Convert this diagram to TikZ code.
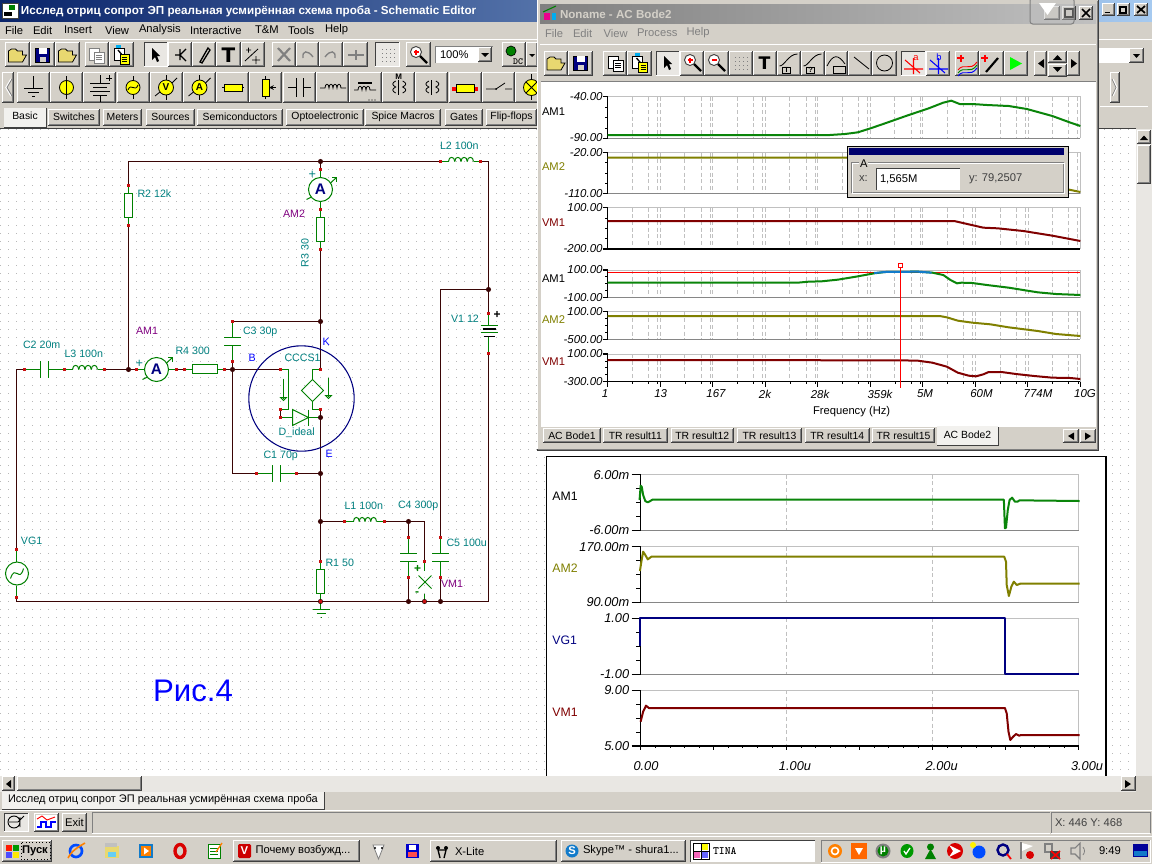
\documentclass[tikz,border=0pt]{standalone}
\usepackage{fontspec}
\setmainfont{Liberation Sans}
\newfontfamily\symfont{DejaVu Sans}
\definecolor{win}{HTML}{D4D0C8}
\definecolor{grayc}{HTML}{808080}
\definecolor{dkedge}{HTML}{404040}
\definecolor{wirec}{HTML}{3A0505}
\definecolor{leadc}{HTML}{008000}
\definecolor{tickc}{HTML}{C81010}
\definecolor{tealc}{HTML}{008080}
\definecolor{purpc}{HTML}{800080}
\definecolor{navyc}{HTML}{000080}
\definecolor{olivec}{HTML}{808000}
\definecolor{marc}{HTML}{800000}
\definecolor{gridc}{HTML}{C0C0C0}
\definecolor{dotc}{HTML}{B8B8B8}
\definecolor{ditherc}{HTML}{E9E7E3}
\definecolor{titleA}{HTML}{0A246A}
\definecolor{titleB}{HTML}{A6CAF0}
\definecolor{curvegreen}{HTML}{0A850A}
\definecolor{icoyellow}{HTML}{FFFF00}
\definecolor{foldery}{HTML}{E8D870}
\newcounter{lblc}
\tikzset{
  txt/.style={inner sep=0pt,outer sep=0pt,anchor=west,text=black,font=\fontsize{8.4}{10}\selectfont},
  tabt/.style={txt,font=\fontsize{7.8}{10}\selectfont},
  lab/.style={txt,text=tealc,font=\fontsize{8}{10}\selectfont},
  pur/.style={lab,text=purpc},
  blu/.style={lab,text=blue},
  ax/.style={txt,anchor=east,font=\fontsize{8.6}{10}\selectfont\itshape},
  axb/.style={txt,anchor=east,font=\fontsize{9.6}{10}\selectfont\itshape},
  wire/.style={draw=wirec,line width=0.75pt},
  lead/.style={draw=leadc,line width=0.75pt},
  jct/.style={circle,fill=wirec,draw=none,inner sep=0pt,minimum size=3.8pt},
  curve/.style={line width=1.5pt,line join=round},
  gline/.style={draw=gridc,line width=0.75pt},
  dgrid/.style={draw=gridc,line width=0.6pt,dash pattern=on 3pt off 2pt},
  ico/.style={draw=black,line width=0.6pt},
}
\newcommand\tx[4][]{\stepcounter{lblc}\node[txt,#1] (lb\arabic{lblc}) at (#2,#3) {#4};}
% raised button
\newcommand\btn[4]{\fill[win] (#1,#2) rectangle (#3,#4);
 \draw[white,line width=0.75pt] (#1+0.5,#4-1) -- (#1+0.5,#2+0.5) -- (#3-1,#2+0.5);
 \draw[grayc,line width=0.75pt] (#1+1,#4-1.5) -- (#3-1.5,#4-1.5) -- (#3-1.5,#2+1);
 \draw[dkedge,line width=0.75pt] (#1,#4-0.5) -- (#3-0.5,#4-0.5) -- (#3-0.5,#2);}
\newcommand\btnin[4]{\fill[ditherc] (#1,#2) rectangle (#3,#4);
 \draw[dkedge,line width=0.75pt] (#1+0.5,#4-1) -- (#1+0.5,#2+0.5) -- (#3-1,#2+0.5);
 \draw[white,line width=0.75pt] (#1,#4-0.5) -- (#3-0.5,#4-0.5) -- (#3-0.5,#2);}
% icons
\newcommand\icfolder[2]{\filldraw[fill=foldery,draw=black,line width=0.6pt] (#1-9,#2+7) -- (#1-9,#2-4) -- (#1-6,#2-6) -- (#1-2,#2-6) -- (#1,#2-4) -- (#1+5,#2-4) -- (#1+5,#2) -- (#1+9,#2) -- (#1+5,#2+7) -- cycle;}
\newcommand\icfloppy[2]{\filldraw[fill=navyc,draw=black,line width=0.5pt] (#1-7,#2-7) rectangle (#1+7,#2+7);\fill[white] (#1-4,#2-7) rectangle (#1+4,#2-1);\fill[win] (#1-3,#2+2) rectangle (#1+3,#2+7);}
\newcommand\icpaper[3]{\filldraw[fill=white,draw=#3,line width=0.6pt] (#1-7,#2-7) rectangle (#1+3,#2+5);\filldraw[fill=white,draw=#3,line width=0.6pt] (#1-2,#2-3) rectangle (#1+8,#2+8);\foreach \q in {0,2,4}{\draw[#3,line width=0.5pt] (#1,#2+\q) -- (#1+6,#2+\q);}}
\newcommand\icpaste[2]{\filldraw[fill=white,draw=black,line width=0.6pt] (#1-7,#2-7) rectangle (#1+3,#2+5);\fill[cyan] (#1-5,#2-10) rectangle (#1,#2-7);\draw[line width=1pt] (#1-3,#2-5) -- (#1+2,#2+1);\filldraw[fill=icoyellow,draw=black,line width=0.6pt] (#1-1,#2-1) rectangle (#1+8,#2+9);\foreach \q in {2,4,6}{\draw[line width=0.5pt] (#1+1,#2+\q) -- (#1+6,#2+\q);}}
\newcommand\icarrow[2]{\fill[black] (#1-4,#2-7) -- (#1-4,#2+5) -- (#1-1,#2+2) -- (#1+1,#2+7) -- (#1+3,#2+6) -- (#1+1,#2+1) -- (#1+4,#2+1) -- cycle;}
\newcommand\icmag[4]{\filldraw[fill=white,draw=dkedge,line width=0.7pt] (#1-2,#2-3) circle[radius=5.5];\draw[#3,line width=1pt] (#1-4.5,#2-3) -- (#1+.5,#2-3);\ifnum#4=1 \draw[#3,line width=1pt] (#1-2,#2-5.5) -- (#1-2,#2-.5);\fi\draw[black,line width=1.8pt] (#1+2,#2+1) -- (#1+9,#2+8);}
\newcommand\icdots[2]{\foreach \a in {-6,-2,2,6}{\foreach \b in {-6,-2,2,6}{\fill[grayc] (#1+\a,#2+\b) rectangle (#1+\a+1,#2+\b+1);}}}
\newcommand\mycoil[3]{\pgfmathsetmacro\cw{(#2-#1)/4}\foreach \k in {0,1,2,3}{\draw[lead] ({#1+\k*\cw},#3) .. controls ({#1+\k*\cw},#3-5.5) and ({#1+(\k+1)*\cw},#3-5.5) .. ({#1+(\k+1)*\cw},#3);}}
\newcommand\tk[1]{\fill[tickc] ([xshift=-1.1pt,yshift=-1.1pt]#1) rectangle ([xshift=1.1pt,yshift=1.1pt]#1);}
\newcommand\ammeter[2]{\draw[lead,fill=white] (#1,#2) circle[radius=12];\stepcounter{lblc}\node[inner sep=0pt,text=navyc,font=\fontsize{11.5}{12}\selectfont\bfseries] (lb\arabic{lblc}) at (#1,#2) {A};\draw[lead] (#1-14,#2+10) -- (#1-9,#2+7.5) (#1+10,#2-6.5) -- (#1+16,#2-12);\draw[lead] (#1+11.5,#2-12) -- (#1+16,#2-12) -- (#1+16,#2-7.5);}
\newcommand\hcap[3]{\draw[lead] (#1,#3-8.5) -- (#1,#3+8.5) (#2,#3-8.5) -- (#2,#3+8.5);}
\newcommand\vcap[3]{\draw[lead] (#3-8.5,#1) -- (#3+8.5,#1) (#3-8.5,#2) -- (#3+8.5,#2);}
% plot frames, in zoom coordinates of their scope
\newcommand\bodeframe[3]{%
 \foreach \n in {0,...,8}{\foreach \o in {68,113,138,145}{\pgfmathsetmacro\gx{197+144.4*\n+\o}\draw[dgrid] (\gx,#1) -- (\gx,#2);}}
 \draw[gline] (197,#1) -- (1497,#1) -- (1497,#2);
 \draw[#3,line width=0.8pt] (197,#2) -- (1497,#2);
 \draw[black,line width=0.8pt] (197,#1) -- (197,#2);
 \draw[black,line width=0.8pt] (183,#1) -- (197,#1) (183,#2) -- (197,#2);
 \pgfmathsetmacro\sA{#1+(#2-#1)/4}\pgfmathsetmacro\sB{#1+(#2-#1)/2}\pgfmathsetmacro\sC{#1+3*(#2-#1)/4}
 \draw[black,line width=0.6pt] (190,\sA) -- (197,\sA) (190,\sB) -- (197,\sB) (190,\sC) -- (197,\sC);}
\newcommand\trframe[3]{%
 \foreach \gx in {673,1082}{\draw[dgrid] (\gx,#1) -- (\gx,#2);}
 \draw[gline] (265,#1) -- (1491,#1) -- (1491,#2);
 \draw[#3,line width=0.8pt] (265,#2) -- (1491,#2);
 \draw[black,line width=0.8pt] (265,#1) -- (265,#2);
 \draw[black,line width=0.8pt] (240,#1) -- (265,#1) (240,#2) -- (265,#2);
 \pgfmathsetmacro\sA{#1+(#2-#1)/4}\pgfmathsetmacro\sB{#1+(#2-#1)/2}\pgfmathsetmacro\sC{#1+3*(#2-#1)/4}
 \draw[black,line width=0.6pt] (253,\sA) -- (265,\sA) (253,\sB) -- (265,\sB) (253,\sC) -- (265,\sC);}
\begin{document}
\begin{tikzpicture}[x=0.75pt,y=-0.75pt]
\useasboundingbox (0,0) rectangle (1152,864);
\clip (0,0) rectangle (1152,864);
\fill[win] (0,0) rectangle (1152,864);

%% ---------- main window title ----------
\shade[left color=titleA,right color=titleB] (0,0) rectangle (1152,21);
\filldraw[fill=white,draw=dkedge,line width=0.5pt] (2,3) rectangle (18,18);
\fill[leadc] (9,5) rectangle (15,10);\fill[black] (4,12) rectangle (12,16);
\tx[text=white,font=\fontsize{8.75}{10}\selectfont\bfseries]{21}{11}{Исслед отриц сопрот ЭП реальная усмирённая схема проба - Schematic Editor}
\btn{1102}{3}{1115}{16}\btn{1117}{3}{1130}{16}\btn{1134}{3}{1148}{16}
\draw[black,line width=1.3pt] (1104.5,12.5) -- (1110,12.5);
\draw[black,line width=0.8pt] (1120,7) rectangle (1126,13);
\draw[black,line width=1.3pt] (1137,6) -- (1145,13) (1145,6) -- (1137,13);
%% menu
\foreach \mx/\mt in {5/File,33/Edit,64/Insert,105/View,139/Analysis,190/Interactive,255/T\&M,288/Tools,325/Help}{\tx{\mx}{30}{\mt}}
\draw[white,line width=0.75pt] (0,39.5) -- (1152,39.5);
%% main toolbar
\foreach \a/\b in {5/30,30/55,55/80,84.5/109,109/134,168/192,192/216,216/241,241/265,272/296,296/319,319/343,343/368,406/431,502/526,526/538}{\btn{\a}{42}{\b}{67}}
\btnin{144}{42}{168}{67}\btnin{375}{42}{400}{67}
\icfolder{17.5}{55}\icfloppy{42.5}{55}\icfolder{67.5}{55}
\icpaper{96}{55}{grayc}\icpaste{121}{55}\icarrow{156}{55}
\draw[ico,line width=1pt] (175,55) -- (180,55) (180,49) -- (180,60) (180,55) -- (186,49) (180,55) -- (186,61);
\draw[ico,line width=1pt] (200,62) -- (208,48) -- (210,50) -- (202,63) -- cycle;
\stepcounter{lblc}\node[inner sep=0pt,font=\fontsize{15}{15}\selectfont\bfseries\symfont] (lb\arabic{lblc}) at (228.5,55) {T};
\draw[ico] (245,61) -- (258,49) (246,50) -- (251,50) (248.5,47.5) -- (248.5,52.5) (252,60) -- (260,60) (256,56) -- (256,64);
\draw[grayc,line width=1.6pt] (278,48) -- (290,61) (290,48) -- (278,61);
\draw[grayc,line width=1pt] (303,58) .. controls (302,50) and (308,50) .. (313,57);\draw[grayc,line width=1pt] (335,58) .. controls (336,50) and (330,50) .. (325,57);
\draw[grayc,line width=1pt] (348,55) -- (364,55) (356,50) -- (356,60);
\icdots{387.5}{55}
\icmag{418}{55}{red}{1}
\fill[white] (435,46) rectangle (478,63);\btn{478}{47}{492}{62}
\draw[grayc,line width=0.75pt] (435,63) -- (435,46) -- (493,46);
\tx{440}{55}{100\%}
\fill[black] (481,53) -- (489,53) -- (485,57) -- cycle;
\filldraw[fill=leadc,draw=black,line width=0.5pt] (511,51) circle[radius=5];
\stepcounter{lblc}\node[inner sep=0pt,font=\fontsize{7}{7}\selectfont\bfseries\ttfamily] (lb\arabic{lblc}) at (518,62) {DC};
\fill[black] (529,54) -- (535,54) -- (532,57) -- cycle;
%% palette
\btn{2}{72}{14}{103}
\draw[white,line width=1pt] (11,79) -- (6,87.5) -- (11,96);\draw[grayc,line width=0.6pt] (12,79) -- (7,87.5) -- (12,96);
\foreach \a in {17,50.2,83.4,116.6,149.8,183,216.2,249.4,282.6,315.8,349,382.2,415.4,448.6,481.8,515}{\btn{\a}{72}{\a+33}{103}}
% ground
\draw[ico] (33.5,76) -- (33.5,88) (24,88) -- (43,88) (28,92) -- (39,92) (32,96) -- (35,96);
% current src
\draw[ico] (66.5,76) -- (66.5,99);\filldraw[fill=icoyellow,draw=black,line width=.6pt] (66.5,87.5) circle[radius=7];\draw[ico] (66.5,80) -- (66.5,95);
% battery
\draw[ico] (100,75) -- (100,83) (90,83) -- (110,83) (93,87) -- (107,87) (90,91) -- (110,91) (93,95) -- (107,95) (100,95) -- (100,102);
\draw[ico] (106,78) -- (112,78) (109,75) -- (109,81);
% voltage gen
\draw[ico] (133,76) -- (133,99);\filldraw[fill=icoyellow,draw=black,line width=.6pt] (133,87.5) circle[radius=7];\draw[ico] (128,90) .. controls (131,82) and (135,93) .. (138,85);
% meters
\foreach \mc/\ml in {166/V,199.5/A}{\draw[ico] (\mc,75) -- (\mc,100);\filldraw[fill=icoyellow,draw=black,line width=.6pt] (\mc,87.5) circle[radius=7.5];\draw[ico] (\mc-11,96) -- (\mc-6,92) (\mc+6,83) -- (\mc+11,78);\stepcounter{lblc}\node[inner sep=0pt,font=\fontsize{7.5}{8}\selectfont\bfseries] (lb\arabic{lblc}) at (\mc,87.5) {\ml};}
% resistor
\draw[ico] (222,87.5) -- (244,87.5);\filldraw[fill=icoyellow,draw=black,line width=.6pt] (224,84) rectangle (242,91);
% pot
\draw[ico] (265.5,76) -- (265.5,99);\filldraw[fill=icoyellow,draw=black,line width=.6pt] (262,79) rectangle (269,96);\draw[ico,-stealth] (276,87.5) -- (269,87.5);
% cap
\draw[ico] (288,87.5) -- (296,87.5) (303,87.5) -- (311,87.5) (296,78) -- (296,97) (303,78) -- (303,97);
% coil
\draw[ico] (320,88) -- (325,88) .. controls (325,83) and (329,83) .. (329,88) .. controls (329,83) and (333,83) .. (333,88) .. controls (333,83) and (337,83) .. (337,88) .. controls (337,83) and (341,83) .. (341,88) -- (346,88);
% coil core
\draw[ico] (354,90) -- (358,90) .. controls (358,85) and (362,85) .. (362,90) .. controls (362,85) and (366,85) .. (366,90) .. controls (366,85) and (370,85) .. (370,90) -- (376,90);
\draw[black,line width=1.4pt] (358,83) -- (372,83);
\fill[black] (369,100) circle[radius=.6] (372,100) circle[radius=.6] (375,100) circle[radius=.6];
% transformers
\foreach \tc in {398.7,431.9}{\draw[ico] (\tc-3,81) .. controls (\tc-7,83) and (\tc-7,85) .. (\tc-3,87) .. controls (\tc-7,89) and (\tc-7,91) .. (\tc-3,93);\draw[ico] (\tc+4,81) .. controls (\tc+8,83) and (\tc+8,85) .. (\tc+4,87) .. controls (\tc+8,89) and (\tc+8,91) .. (\tc+4,93);\draw[black,line width=.8pt] (\tc,80) -- (\tc,95);}
\stepcounter{lblc}\node[inner sep=0pt,font=\fontsize{6}{6}\selectfont\bfseries] (lb\arabic{lblc}) at (398.7,76.5) {M};
% lossy line
\draw[ico] (452,89) -- (478,89);\fill[red] (452,87) rectangle (456,91);\fill[red] (474,87) rectangle (478,91);\filldraw[fill=icoyellow,draw=black,line width=.6pt] (456,84) rectangle (474,92);
% switch
\draw[ico] (486,89) -- (496,89) (496,89) -- (505,83) (505,89) -- (512,89);\fill[black] (496,89) circle[radius=1];
% lamp
\draw[ico] (531.5,74) -- (531.5,100);\filldraw[fill=icoyellow,draw=black,line width=.6pt] (531.5,87.5) circle[radius=8];\draw[ico] (526,82) -- (537,93) (537,82) -- (526,93);
\btn{1110}{72}{1120}{103}\draw[white,line width=.8pt] (1113,79) -- (1117,87.5) -- (1113,96);\draw[grayc,line width=.5pt] (1112,79) -- (1116,87.5) -- (1112,96);
\draw[white,line width=.75pt] (1100,106.5) -- (1148,106.5);
%% combo on the right of main window
\fill[white] (1099,48) rectangle (1129,63);\btn{1129}{48}{1144}{63}\fill[black] (1133,54) -- (1140,54) -- (1136.5,58) -- cycle;
%% palette tabs
\foreach \a/\b/\t in {48/100/Switches,103/142/Meters,146/195/Sources,197/283/Semiconductors,286/364/Optoelectronic,365/441/Spice Macros,445/483/Gates,486/537/Flip-flops}{\btn{\a}{109}{\b}{126}\stepcounter{lblc}\node[tabt,anchor=center,inner sep=0pt] (lb\arabic{lblc}) at ({(\a+\b)/2},117) {\t};}
\fill[white!70!win] (4,108) rectangle (46,127);\draw[dkedge,line width=.75pt] (46.5,108) -- (46.5,127.5) -- (4,127.5);
\tx[tabt,anchor=center]{25}{116}{Basic}

%% ---------- schematic sheet ----------
\fill[white] (0,128.5) rectangle (1136,776);
\draw[dkedge,line width=.75pt] (0,128) -- (1136,128);
\foreach \gy in {129,137,...,777}{\draw[dotc,line width=0.75pt,dash pattern=on 0.75pt off 5.25pt] (0,\gy+.5) -- (1136,\gy+.5);}

\begin{scope}[shift={(0.5,0.5)}]
%% named points
\coordinate (c128) at (128,161); \node[jct] (jTop) at (320,161) {};
\coordinate (tL2a) at (440,161); \coordinate (tL2b) at (480,161); \coordinate (c488t) at (488,161);
\node[jct] (j488) at (488,289) {}; \coordinate (c440) at (440,289);
\coordinate (tV1a) at (488,313); \coordinate (tV1b) at (488,353); \coordinate (c488b) at (488,601);
\coordinate (tR2a) at (128,185); \coordinate (tR2b) at (128,225); \node[jct] (j128) at (128,369) {};
\coordinate (c16) at (16,369); \coordinate (c16b) at (16,601); \coordinate (tVGa) at (16,549); \coordinate (tVGb) at (16,597);
\coordinate (tC2a) at (24,369); \coordinate (tC2b) at (64,369); \coordinate (tL3b) at (104,369);
\coordinate (tAa) at (136,369); \coordinate (tAb) at (176,369); \coordinate (tR4a) at (184,369); \coordinate (tR4b) at (224,369);
\node[jct] (jB) at (232,369) {};
\coordinate (tC3b) at (232,361); \coordinate (tC3a) at (232,321); \node[jct] (jK) at (320,321) {};
\coordinate (tAM2a) at (320,169); \coordinate (tAM2b) at (320,209); \coordinate (tR3b) at (320,249);
\coordinate (tKk) at (320,369); \coordinate (tBi) at (280,369); \coordinate (tD1) at (280,409); \coordinate (tD2) at (280,417);
\coordinate (tEe) at (320,409); \node[jct] (jE) at (320,417) {}; \node[jct] (jC1) at (320,473) {};
\node[jct] (jL1) at (320,521) {}; \coordinate (tR1a) at (320,561); \node[jct] (jGnd) at (320,601) {};
\coordinate (cBb) at (232,473); \coordinate (tC1a) at (256,473); \coordinate (tC1b) at (296,473);
\coordinate (tL1a) at (344,521); \coordinate (tL1b) at (384,521); \node[jct] (j408) at (408,521) {};
\coordinate (c424) at (424,521); \coordinate (tVMa) at (424,561); \node[jct] (jVMb) at (424,601) {};
\coordinate (tC4a) at (408,537); \coordinate (tC4b) at (408,577); \node[jct] (j408b) at (408,601) {};
\coordinate (tC5a) at (440,537); \coordinate (tC5b) at (440,577); \node[jct] (j440b) at (440,601) {};
%% wires
\draw[wire] (tR2a) -- (c128) -- (jTop) -- (tL2a);
\draw[wire] (tL2b) -- (c488t) -- (j488) -- (tV1a);
\draw[wire] (tV1b) -- (c488b) -- (j440b) -- (jVMb) -- (j408b) -- (jGnd) -- (c16b) -- (tVGb);
\draw[wire] (tVGa) -- (c16) -- (tC2a);
\draw[wire] (tR2b) -- (j128);
\draw[wire] (tL3b) -- (j128) -- (tAa);
\draw[wire] (tAb) -- (tR4a); \draw[wire] (tR4b) -- (jB);
\draw[wire] (jB) -- (tBi); \draw[wire] (tD1) -- (tD2);
\draw[wire] (jB) -- (tC3b); \draw[wire] (tC3a) -- (jK);
\draw[wire] (jTop) -- (tAM2a); \draw[wire] (tR3b) -- (jK) -- (tKk);
\draw[wire] (tEe) -- (jE) -- (jC1) -- (jL1) -- (tR1a);
\draw[wire] (jB) -- (cBb) -- (tC1a); \draw[wire] (tC1b) -- (jC1);
\draw[wire] (jL1) -- (tL1a); \draw[wire] (tL1b) -- (j408) -- (c424) -- (tVMa);
\draw[wire] (j408) -- (tC4a); \draw[wire] (tC4b) -- (j408b);
\draw[wire] (j488) -- (c440) -- (tC5a); \draw[wire] (tC5b) -- (j440b);
%% CCCS circle
\draw[navyc,line width=0.8pt] (301,398) circle[radius=52.7];
%% green leads + parts
\draw[lead] (tC2a) -- (40,369) (48,369) -- (tC2b) -- (72,369) (97,369) -- (tL3b);
\hcap{40}{48}{369} \mycoil{72}{97}{369}
\draw[lead] (tAa) -- (144,369) (168,369) -- (tAb); \ammeter{156}{369}
\draw[lead] (tR4a) -- (192,369) (217,369) -- (tR4b); \draw[lead,fill=white] (192,364) rectangle (217,373);
\draw[lead] (tR2a) -- (128,193) (128,217) -- (tR2b); \draw[lead,fill=white] (124,193) rectangle (132,217);
\draw[lead] (tAM2a) -- (320,177) (320,201) -- (tAM2b) -- (320,217) (320,241) -- (tR3b); \ammeter{320}{189}
\draw[lead,fill=white] (316,217) rectangle (324,241);
\draw[lead] (tC3b) -- (232,345) (232,337) -- (tC3a); \vcap{337}{345}{232}
\draw[lead] (tBi) -- (288,369) -- (288,409) -- (tD1);
\draw[lead] (tD2) -- (292,417) (308,417) -- (jE);
\draw[lead] (292,409) -- (292,425) -- (308,417) -- cycle; \draw[lead] (308,409) -- (308,425);
\draw[lead] (tKk) -- (312,369) -- (312,379) (312,401) -- (312,409) -- (tEe);
\draw[lead] (312,379) -- (323,390) -- (312,401) -- (301,390) -- cycle;
\draw[lead] (283,378) -- (283,398); \draw[lead] (280,397) -- (286,397) -- (283,400) -- cycle;
\draw[lead] (328,377) -- (328,396); \draw[lead] (325,395) -- (331,395) -- (328,398) -- cycle;
\draw[lead] (tC1a) -- (272,473) (280,473) -- (tC1b); \hcap{272}{280}{473}
\draw[lead] (tL1a) -- (353,521) (376,521) -- (tL1b); \mycoil{353}{376}{521}
\draw[lead] (tL2a) -- (448,161) (473,161) -- (tL2b); \mycoil{448}{473}{161}
\draw[lead] (tC4a) -- (408,553) (408,561) -- (tC4b); \vcap{553}{561}{408}
\draw[lead] (tC5a) -- (440,553) (440,561) -- (tC5b); \vcap{553}{561}{440}
\draw[lead] (tVMa) -- (424,570) (424,593) -- (jVMb);
\draw[lead] (418,575) -- (431,588) (431,575) -- (418,588);
\draw[lead] (tR1a) -- (320,569) (320,593) -- (jGnd); \draw[lead,fill=white] (316,569) rectangle (324,593);
\draw[lead] (jGnd) -- (320,609) (312,609) -- (329,609) (316,613) -- (325,613) (320,617) -- (321,617);
\draw[lead] (tVGa) -- (16,561.5) (16,585) -- (tVGb);
\draw[lead,fill=white] (16.5,573) circle[radius=11.5];
\draw[lead] (10,578) .. controls (15,563) and (19,583) .. (23,568);
\draw[lead] (tV1a) -- (488,325) (488,336) -- (tV1b);
\draw[lead] (480,325) -- (497,325) (480,332) -- (497,332);
\draw[black,line width=1.3pt] (482,328.5) -- (495,328.5);
\draw[black,line width=1.3pt] (483,336) -- (494,336);
%% ticks
\foreach \tn in {tL2a,tL2b,tV1a,tV1b,tR2a,tR2b,tVGa,tVGb,tC2a,tC2b,tL3b,tAa,tAb,tR4a,tR4b,tC3a,tC3b,tAM2a,tAM2b,tR3b,tKk,tBi,tD1,tD2,tEe,tR1a,tC1a,tC1b,tL1a,tL1b,tVMa,tC4a,tC4b,tC5a,tC5b,jGnd,jVMb}{\tk{\tn}}
\end{scope}
%% schematic labels
\tx[lab]{137.5}{194}{R2 12k}
\tx[pur]{136}{330.5}{AM1}
\tx[lab]{23}{345}{C2 20m}
\tx[lab]{64.5}{354}{L3 100n}
\tx[lab]{175.5}{351}{R4 300}
\tx[lab]{243}{332}{C3 30p}
\tx[blu]{248.5}{357.5}{B}
\tx[blu]{322.5}{341.5}{K}
\tx[blu]{325.5}{454}{E}
\tx[lab]{284.5}{358}{CCCS1}
\tx[lab]{278.5}{433}{D\_ideal}
\tx[lab]{263.5}{456}{C1 70p}
\tx[lab]{344.5}{506}{L1 100n}
\tx[lab]{398}{506}{C4 300p}
\tx[lab]{446.5}{543}{C5 100u}
\tx[lab]{325.5}{563}{R1 50}
\tx[pur]{441}{584}{VM1}
\tx[lab]{21}{541}{VG1}
\tx[lab]{440}{146}{L2 100n}
\tx[pur]{283}{214}{AM2}
\stepcounter{lblc}\node[lab,rotate=90,anchor=center] (lb\arabic{lblc}) at (305,253) {R3 30};
\tx[lab]{451}{319}{V1 12}
\tx[txt,font=\fontsize{9}{10}\selectfont\bfseries]{493.5}{315}{+}
\tx[lab,font=\fontsize{9.5}{10}\selectfont]{135.5}{364}{+}
\tx[lab,font=\fontsize{9.5}{10}\selectfont]{308.5}{174.5}{+}
\tx[lab,text=leadc,font=\fontsize{9}{10}\selectfont\bfseries]{414}{568.5}{+}
\tx[lab,text=leadc,font=\fontsize{9}{10}\selectfont\bfseries]{415}{594}{-}
\tx[txt,text=blue,font=\fontsize{23.4}{26}\selectfont]{153}{691}{Рис.4}

%% right scrollbar
\fill[ditherc] (1136,129) rectangle (1152,776);
\btn{1136.5}{130}{1151}{144}\fill[black] (1140,140) -- (1148,140) -- (1144,135.5) -- cycle;
\btn{1136.5}{145}{1151}{184}
\fill[win] (1136,776) rectangle (1152,792);

%% ---------- Bode window ----------
\fill[win] (537,0) rectangle (1099,450);
\draw[white,line width=.75pt] (537.5,450) -- (537.5,0);
\draw[dkedge,line width=1pt] (1098.5,0) -- (1098.5,450) -- (537,450);
\draw[grayc,line width=.75pt] (1097,1) -- (1097,449) -- (538,449);
\shade[left color=grayc,right color=gridc] (540,4) rectangle (1096,23);
\fill[magenta] (544,13) rectangle (550,20);\fill[cyan] (552,13) rectangle (556,20);\draw[leadc,line width=.8pt] (543,12) -- (556,6);
\tx[text=win,font=\fontsize{8.7}{10}\selectfont\bfseries]{560}{14}{Noname - AC Bode2}
\foreach \mx/\mt in {545/File,573/Edit,603.6/View,637/Process,686.5/Help}{\tx[text=grayc]{\mx}{33}{\mt}}
\draw[white,line width=.75pt] (540,44.5) -- (1096,44.5);
\foreach \a/\b in {544/568,568/593,603/627,627/652,680/704,704/728.5,728.5/752.5,752.5/776.5,776.5/800.5,800.5/825,825/848,848/872,872/897,926/950,954.5/979,979/1003.6,1003.6/1028}{\btn{\a}{51}{\b}{76}}
\btnin{656}{51}{680}{76}\btnin{901}{51}{926}{76}
\icfolder{556}{63}\icfloppy{580.5}{63}\icpaper{615}{63}{black}\icpaste{639.5}{63}\icarrow{668}{63}
\icmag{692}{63}{red}{1}\icmag{716}{63}{red}{0}\icdots{740.5}{63}
\stepcounter{lblc}\node[inner sep=0pt,font=\fontsize{13}{13}\selectfont\bfseries\symfont] (lb\arabic{lblc}) at (764.5,63) {T};
\foreach \zc/\zt in {788.5/T,812.5/?}{\draw[ico] (\zc-9,66) .. controls (\zc-4,66) and (\zc,54) .. (\zc+9,54);\draw[ico] (\zc-6,67) rectangle (\zc+2,73);\stepcounter{lblc}\node[inner sep=0pt,font=\fontsize{5.5}{6}\selectfont\bfseries] (lb\arabic{lblc}) at (\zc-2,70) {\zt};}
\draw[ico] (827,66) .. controls (833,54) and (838,54) .. (845,64);\draw[ico] (833,66) rectangle (845,73);
\draw[ico] (854,57) -- (869,69);
\draw[ico] (884.5,63) circle[radius=8];
\draw[red,line width=.8pt] (904,69) -- (923,69) (913.5,58) -- (913.5,74) (905,60) -- (920,73);
\draw[blue,line width=.8pt] (929,69) -- (948,69) (938.5,58) -- (938.5,74) (930,60) -- (945,73);
\tx[anchor=center,text=red,font=\fontsize{7}{8}\selectfont]{916}{58}{a}
\tx[anchor=center,text=blue,font=\fontsize{7}{8}\selectfont]{939}{57}{b}
\draw[red,line width=1.5pt] (957,58) -- (964,58) (960.5,54.5) -- (960.5,61.5);
\draw[red,line width=.7pt] (958,70) .. controls (964,62) and (970,72) .. (977,62);
\draw[leadc,line width=.7pt] (958,73) .. controls (964,65) and (970,75) .. (977,65);
\draw[blue,line width=.7pt] (958,76) .. controls (964,68) and (970,78) .. (977,68);
\draw[red,line width=1.5pt] (981,58) -- (988,58) (984.5,54.5) -- (984.5,61.5);
\draw[black,line width=1.6pt] (986,72) -- (998,58);
\fill[green] (1010,57) -- (1010,70) -- (1022,63.5) -- cycle;
\btn{1034}{51}{1047}{76}\fill[black] (1044,59) -- (1044,68) -- (1038,63.5) -- cycle;
\btn{1048}{51}{1067}{63}\fill[black] (1053,60) -- (1062,60) -- (1057.5,55) -- cycle;
\btn{1048}{64}{1067}{77}\fill[black] (1053,67) -- (1062,67) -- (1057.5,72) -- cycle;
\btn{1067}{51}{1080}{76}\fill[black] (1071,59) -- (1071,68) -- (1077,63.5) -- cycle;
% title buttons
\btn{1044}{6}{1060}{20}
\btn{1062}{6}{1076}{20}\draw[black,line width=.8pt] (1065,9) rectangle (1073,17);
\btn{1079}{6}{1093}{20}\draw[black,line width=1.3pt] (1082,9) -- (1090,17) (1090,9) -- (1082,17);
\fill[gridc,opacity=.45,rounded corners=2pt] (1030,-2) rectangle (1074,24);
\draw[grayc,rounded corners=2pt,line width=.75pt] (1030,-2) rectangle (1074,24);
\fill[white] (1039,3) -- (1056,3) -- (1047.5,15) -- cycle;
% plot sheet
\fill[white] (541,81.5) rectangle (1096,427);
\draw[grayc,line width=.75pt] (541,81.5) -- (1096,81.5);

%% upper Bode plots (zoom coordinates)
\begin{scope}[shift={(536,85)},x=0.2727pt,y=-0.25pt]
\bodeframe{35}{160}{gridc!70!black}
\bodeframe{203}{325}{gridc!70!black}
\bodeframe{368}{492}{black}
\draw[curve,curvegreen] plot coordinates {(197,150) (808,150) (850,147) (885,142) (920,130) (960,115) (1020,92) (1080,70) (1120,53) (1142,47) (1165,57) (1200,57) (1240,60) (1300,63) (1350,72) (1420,93) (1470,113) (1497,123)};
\draw[curve,olivec] plot coordinates {(197,218) (1100,218) (1200,225) (1300,250) (1400,290) (1462,313) (1497,321)};
\draw[curve,marc] plot coordinates {(197,408) (1150,408) (1190,418) (1230,428) (1270,430) (1340,438) (1420,452) (1497,468)};
\end{scope}
\foreach \ay/\at in {96.7/-40.00,138/-90.00,152.7/-20.00,193.3/-110.00,207.7/100.00,249/-200.00,270/100.00,297.3/-100.00,311.7/100.00,339.3/-500.00,354/100.00,381.7/-300.00}{\tx[ax]{602.5}{\ay}{\at}}
\tx{542}{112}{AM1}\tx[text=olivec]{542}{167}{AM2}\tx[text=marc]{542}{223}{VM1}
\tx{542}{279}{AM1}\tx[text=olivec]{542}{320}{AM2}\tx[text=marc]{542}{362}{VM1}
%% lower Bode plots
\begin{scope}[shift={(536,260)},x=0.2727pt,y=-0.25pt]
\bodeframe{30}{112}{gridc!70!black}
\bodeframe{155}{238}{gridc!70!black}
\bodeframe{282}{365}{black}
\foreach \n in {0,...,9}{\draw[black,line width=.7pt] ({197+144.4*\n},365) -- ({197+144.4*\n},382);}
\foreach \n in {0,...,8}{\foreach \o in {68,113,138}{\draw[black,line width=.5pt] ({197+144.4*\n+\o},365) -- ({197+144.4*\n+\o},373);}}
\draw[red,line width=.75pt] (197,37) -- (1497,37);
\draw[curve,curvegreen] plot coordinates {(197,68) (720,68) (750,65) (785,64) (830,59) (880,50) (930,40) (960,36) (1050,35) (1090,38) (1120,45) (1140,60) (1158,70) (1170,68) (1200,69) (1240,75) (1300,83) (1380,97) (1430,102) (1497,105)};
\draw[curve,cyan!60!blue] plot coordinates {(930,39) (960,36) (1050,35) (1088,38)};
\draw[curve,olivec] plot coordinates {(197,168) (1110,168) (1130,172) (1160,182) (1200,188) (1250,193) (1300,202) (1380,213) (1430,222) (1497,228)};
\draw[curve,marc] plot coordinates {(197,300) (1000,301) (1050,302) (1090,308) (1130,320) (1160,338) (1190,347) (1210,349) (1230,343) (1245,336) (1280,336) (1320,342) (1370,348) (1420,353) (1470,354) (1497,357)};
\draw[red,line width=.75pt] (1002,20) -- (1002,385);
\draw[red,fill=white,line width=.75pt] (998,11) rectangle (1007,21);
\end{scope}
\foreach \lx/\lt in {605/1,660.7/13,716/167,765/2k,820/28k,880/359k,925/5M,981.5/60M,1038/774M,1085/10G}{\tx[ax,anchor=center]{\lx}{394}{\lt}}
\tx[anchor=center]{851.6}{411.7}{Frequency (Hz)}
%% cursor dialog
\fill[win] (847,146) rectangle (1068,197);
\draw[black,line width=.75pt] (847,146) rectangle (1068,197);
\fill[navyc!85!black] (849,148) rectangle (1064,155);
\draw[grayc,line width=.75pt] (851,162) rectangle (1063,192.5);
\draw[white,line width=.5pt] (852,163) rectangle (1064,193.5);
\fill[win] (859,160) rectangle (868,165);
\tx{860}{164}{A}
\tx[text=dkedge]{859}{178.5}{x:}
\fill[white] (876,168) rectangle (959.5,190);
\draw[dkedge,line width=.75pt] (876,190) -- (876,168) -- (959.5,168);
\tx{880}{179}{1,565M}
\tx[text=dkedge]{969}{178.5}{y: 79,2507}
%% tabs
\foreach \a/\b/\t in {543/601/AC Bode1,603/667.6/TR result11,670.5/734/TR result12,737/802/TR result13,805/869.5/TR result14,872/935/TR result15}{\btn{\a}{428}{\b}{443}\stepcounter{lblc}\node[tabt,anchor=center] (lb\arabic{lblc}) at ({(\a+\b)/2},436) {\t};}
\fill[white!70!win] (937,426) rectangle (998,445);\draw[dkedge,line width=.75pt] (998,427) -- (998,445.5) -- (937,445.5);
\tx[tabt,anchor=center]{967.5}{435}{AC Bode2}
\btn{1062.5}{429}{1079}{443}\fill[black] (1074,432.5) -- (1074,440) -- (1068,436) -- cycle;
\btn{1079.5}{429}{1096}{443}\fill[black] (1085,432.5) -- (1085,440) -- (1091,436) -- cycle;

%% ---------- transient plot ----------
\fill[white] (546.5,456.5) rectangle (1106,776);
\draw[black,line width=.9pt] (546.5,776) -- (546.5,456.5) -- (1106,456.5) -- (1106,776);
\begin{scope}[shift={(546,455)},x=0.26786pt,y=-0.25pt]
\trframe{59}{226}{gridc!70!black}
\trframe{275}{442}{gridc!70!black}
\trframe{490}{658}{gridc!70!black}
\trframe{706}{873}{black}
\foreach \n in {0,...,30}{\draw[black,line width=.5pt] ({265+40.87*\n},873) -- ({265+40.87*\n},879);}
\foreach \n in {0,...,6}{\draw[black,line width=.7pt] ({265+204.33*\n},873) -- ({265+204.33*\n},886);}
\draw[curve,curvegreen] plot coordinates {(262,135) (265,92) (268,95) (272,120) (278,138) (285,142) (292,138) (298,134) (1282,134) (1285,220) (1288,218) (1293,165) (1298,135) (1305,128) (1313,140) (1320,140) (1326,136) (1494,138)};
\draw[curve,olivec] plot coordinates {(263,348) (267,320) (272,290) (278,300) (285,313) (295,305) (1283,305) (1288,320) (1290,390) (1296,423) (1303,395) (1310,380) (1318,390) (1328,386) (1494,386)};
\draw[curve,navyc] plot coordinates {(262,573) (262,490) (1285,490) (1285,657) (1491,657)};
\draw[curve,marc] plot coordinates {(265,800) (272,770) (280,752) (288,759) (1285,759) (1290,775) (1295,830) (1300,855) (1308,845) (1316,837) (1325,842) (1330,840) (1494,840)};
\end{scope}
\foreach \ay/\at in {474.7/6.00m,530.3/-6.00m,546.7/170.00m,602.3/90.00m,618.3/1.00,674.3/-1.00,690.3/9.00,746/5.00}{\tx[axb]{629.2}{\ay}{\at}}
\tx[font=\fontsize{9.2}{10}\selectfont]{552.4}{496}{AM1}
\tx[text=olivec,font=\fontsize{9.2}{10}\selectfont]{552.4}{568}{AM2}
\tx[text=navyc,font=\fontsize{9.2}{10}\selectfont]{552.4}{640}{VG1}
\tx[text=marc,font=\fontsize{9.2}{10}\selectfont]{552.4}{712}{VM1}
\foreach \lx/\lt in {646/0.00,795/1.00u,941.7/2.00u,1087/3.00u}{\tx[axb,anchor=center]{\lx}{766}{\lt}}

%% ---------- bottom strips ----------
\fill[ditherc] (0,776) rectangle (1136,792);
\btn{2}{776}{15}{791}\fill[black] (11,780) -- (11,788) -- (6,784) -- cycle;
\btn{17}{776}{141.5}{791}
\btn{1121}{776}{1135.5}{791}\fill[black] (1125,780) -- (1125,788) -- (1131,784) -- cycle;
\fill[win] (0,792) rectangle (1152,837);
\fill[white!70!win] (2,792) rectangle (324,809);
\draw[dkedge,line width=.75pt] (324,792) -- (324,809.5) -- (2,809.5);
\tx[font=\fontsize{8.25}{10}\selectfont]{8}{799.5}{Исслед отриц сопрот ЭП реальная усмирённая схема проба}
\draw[white,line width=.75pt] (0,810.5) -- (1152,810.5);
\btnin{4.4}{813}{28.5}{832}
\draw[black,line width=.7pt] (14,822) circle[radius=6] (9,822) -- (18,822) (20,817) -- (20,827) (18,822) -- (24,816);
\btn{34}{813}{58.5}{832}\fill[white] (36,815) rectangle (57,830);
\draw[red,line width=.7pt] (37,819) -- (42,816) -- (47,820) -- (55,817);
\draw[blue,line width=.8pt] (37,827) -- (41,827) -- (41,822) -- (46,822) -- (46,827) -- (51,827) -- (51,822) -- (56,822);
\btn{62}{813}{87}{832}\tx[anchor=center]{74.5}{822.5}{Exit}
\draw[grayc,line width=.75pt] (92,833) -- (92,812.5) -- (1050,812.5);\draw[white,line width=.75pt] (92,833.5) -- (1050,833.5);
\draw[grayc,line width=.75pt] (1051,833) -- (1051,812.5) -- (1150,812.5) -- (1150,833);\draw[white,line width=.75pt] (1051,833.5) -- (1150,833.5);
\tx[text=dkedge]{1055}{823}{X: 446  Y: 468}
\draw[white,line width=.75pt] (0,836.5) -- (1152,836.5);

%% taskbar
\btn{2}{840}{52}{862}
\fill[red!80!orange] (6,845) rectangle (12,851);\fill[green!60!black] (13,845) rectangle (19,851);\fill[blue!70] (6,852) rectangle (12,858);\fill[yellow!90!orange] (13,852) rectangle (19,858);
\tx[font=\fontsize{8.4}{10}\selectfont\bfseries]{22}{851}{Пуск}
\draw[black,line width=.5pt,dotted] (21,842.5) rectangle (50,859.5);
% quick launch
\draw[blue!70!cyan,line width=2pt] (76,851) circle[radius=6];\draw[orange,line width=1.2pt] (68,858) .. controls (72,850) and (80,846) .. (85,843);
\fill[foldery] (105,846) rectangle (119,858);\fill[gridc] (105,843) rectangle (117,847);\fill[cyan!60] (108,852) rectangle (116,857);
\fill[cyan!60!blue] (139,844) rectangle (153,858);\fill[orange] (141,846) rectangle (151,856);\fill[white] (144,847.5) -- (144,854.5) -- (149,851) -- cycle;
\draw[red!85!black,line width=2.5pt] (180,851) ellipse[x radius=5,y radius=6.5];
\filldraw[fill=white,draw=leadc,line width=.6pt] (208,844) rectangle (220,858);\draw[leadc,line width=.5pt] (210,848) -- (218,848) (210,851) -- (218,851) (210,854) -- (218,854);\draw[orange,line width=1pt] (216,852) -- (222,843);
% task buttons
\btn{232.6}{840}{360}{862}
\fill[red!80!black,rounded corners=1pt] (238,844) rectangle (251,858);
\tx[text=white,font=\fontsize{8.5}{10}\selectfont\bfseries,anchor=center]{244.5}{851}{V}
\tx[font=\fontsize{8.4}{10}\selectfont]{255.6}{851}{Почему возбужд...}
\filldraw[fill=white,draw=grayc,line width=.6pt] (373,845) -- (384,845) -- (378.5,859) -- cycle;
\fill[black] (375,848) circle[radius=1.2] (382,848) circle[radius=1.2];
\fill[blue!80!black] (406,844) rectangle (419,858);\fill[white] (409,845) rectangle (416,850);\fill[red!70] (408,852) rectangle (417,857);
\btn{430}{840}{557}{862}
\fill[black] (438,848) circle[radius=2] (446,848) circle[radius=2];\draw[black,line width=1pt] (438,850) -- (440,858) (446,850) -- (444,858) (438,850) -- (446,850);
\tx{455}{851}{X-Lite}
\btn{561}{840}{686}{862}
\fill[cyan!60!blue] (572,851) circle[radius=6.5];\tx[text=white,anchor=center,font=\fontsize{8.4}{10}\selectfont\bfseries]{572}{851}{S}
\tx{583}{851}{Skype™ - shura1...}
\fill[white] (690,840) rectangle (814.6,862);\draw[dkedge,line width=.75pt] (814.6,840) -- (690,840) -- (690,862);
\draw[black,line width=.5pt] (693,843) rectangle (709,859) (693,851) -- (709,851) (701,843) -- (701,859);
\fill[icoyellow] (702,844) rectangle (708,850);\fill[magenta!60] (694,852) rectangle (700,858);\fill[blue!60] (702,852) rectangle (708,858);
\tx[font=\fontsize{8.4}{10}\selectfont\bfseries\ttfamily]{713}{851}{TINA}
% tray
\draw[grayc,line width=.75pt] (821,862) -- (821,840) -- (1150,840);\draw[white,line width=.75pt] (821,862) -- (1150,862) -- (1150,840);
\fill[orange] (835,851) circle[radius=7];\draw[white,line width=1.2pt] (835,851) circle[radius=3.5];
\fill[orange!80!red] (851,843) rectangle (867,859);\fill[white] (855,848) -- (863,848) -- (859,855) -- cycle;
\fill[gray] (883,851) circle[radius=7.5];\fill[leadc] (883,851) circle[radius=5.5];\tx[text=white,anchor=center,font=\fontsize{8}{10}\selectfont\bfseries]{883}{851}{µ}
\fill[green!60!black] (907,851) ellipse[x radius=6.5,y radius=7];\draw[white,line width=1pt] (904,851) -- (906,854) -- (910,848);
\fill[green!50!black] (930.5,847) circle[radius=3.5];\fill[green!50!black] (925,859) -- (930.5,849) -- (936,859) -- cycle;
\fill[red!85!black] (955,851) circle[radius=8];\fill[white] (949,845) -- (961,851) -- (949,857) -- (953,851) -- cycle;
\fill[blue!70!cyan] (979,852) circle[radius=6.5];\fill[yellow] (973,845) circle[radius=3];
\draw[blue!50!black,line width=1.8pt] (1003,850) circle[radius=5.5];\draw[red,line width=1.3pt] (1007,854) -- (1011,859);
\draw[grayc,line width=1pt] (1021,842) -- (1021,859);\fill[white] (1022,843) -- (1033,846) -- (1022,851) -- cycle;\fill[red!85!black] (1030,855) circle[radius=4];
\draw[grayc,line width=1pt] (1045,844) rectangle (1052,852);\fill[dkedge] (1050,851) rectangle (1060,859);\draw[red,line width=1.2pt] (1051,851) -- (1060,859) (1060,851) -- (1051,859);
\draw[grayc,line width=.8pt] (1071,848) -- (1075,848) -- (1080,843) -- (1080,859) -- (1075,854) -- (1071,854) -- cycle;\draw[grayc,line width=.6pt] (1083,847) .. controls (1085,850) and (1085,852) .. (1083,855);
\tx{1099}{851}{9:49}
\fill[blue!60!black] (1133,844) rectangle (1148,857);\fill[cyan!60!blue] (1134,851) rectangle (1147,856);
\end{tikzpicture}
\end{document}
